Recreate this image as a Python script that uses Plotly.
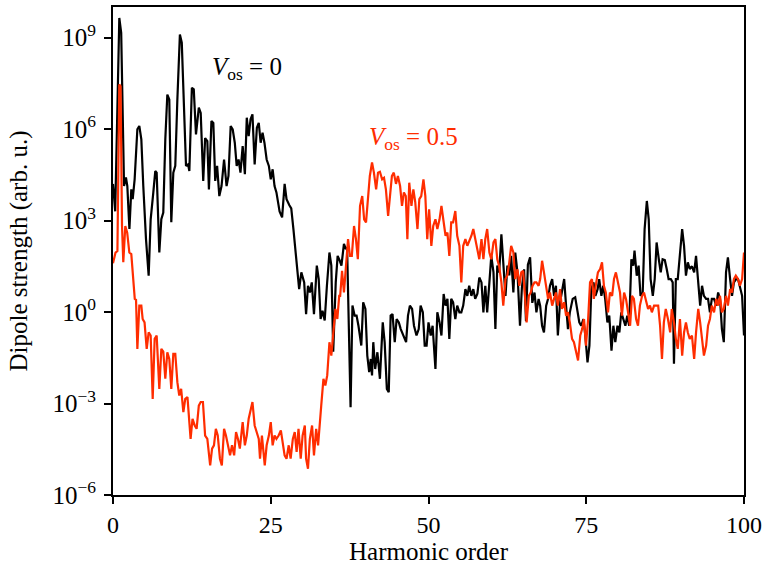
import plotly.graph_objects as go

# Harmonic spectra: harmonic order vs log10 of dipole strength (arb. u.)
harmonic_vos0 = [
    0.0, 0.35, 1.0, 1.3, 1.75, 2.05, 2.27, 2.6, 2.9, 3.12, 3.43, 3.86, 4.17, 4.49, 4.8, 5.23, 5.65, 5.97,
    6.39, 6.7, 6.92, 7.34, 7.66, 7.97, 8.29, 8.61, 8.92, 9.24, 9.56, 9.87, 10.2, 10.6, 10.9, 11.25, 11.57,
    11.9, 12.1, 12.5, 12.8, 13.15, 13.6, 13.9, 14.3, 14.6, 14.95, 15.2, 15.6, 15.9, 16.2, 16.5, 16.85, 17.2,
    17.6, 18.0, 18.3, 18.65, 18.97, 19.3, 19.6, 19.9, 20.2, 20.55, 20.9, 21.2, 21.5, 21.8, 22.1, 22.45,
    22.8, 23.1, 23.4, 23.7, 24.0, 24.35, 24.7, 25.0, 25.3, 25.6, 25.9, 26.4, 26.8, 27.2, 27.5, 27.95,
    28.25, 28.6, 29.05, 29.5, 29.85, 30.3, 30.6, 30.9, 31.2, 31.5, 31.85, 32.3, 32.6, 32.9, 33.2, 33.55,
    33.9, 34.3, 34.6, 34.9, 35.3, 35.6, 35.9, 36.2, 36.6, 36.9, 37.1, 37.35, 37.65, 37.95, 38.3, 38.6,
    38.9, 39.35, 39.65, 40.0, 40.3, 40.6, 40.85, 41.05, 41.25, 41.55, 41.9, 42.3, 42.75, 43.05, 43.4,
    43.7, 44.0, 44.3, 44.65, 44.95, 45.3, 45.6, 46.0, 46.45, 46.75, 47.05, 47.4, 47.7, 48.1, 48.45, 48.75,
    49.1, 49.4, 49.7, 50.0, 50.35, 50.65, 51.1, 51.4, 51.75, 52.05, 52.4, 52.7, 53.0, 53.3, 53.6, 53.9,
    54.25, 54.55, 54.9, 55.2, 55.5, 55.85, 56.15, 56.45, 56.8, 57.1, 57.4, 57.75, 58.05, 58.4, 58.7, 59.0,
    59.3, 59.65, 59.95, 60.3, 60.6, 60.9, 61.2, 61.55, 61.85, 62.2, 62.5, 62.8, 63.1, 63.45, 63.75, 64.1,
    64.5, 64.8, 65.15, 65.45, 65.75, 66.1, 66.45, 66.8, 67.1, 67.45, 67.7, 68.0, 68.3, 68.65, 68.95,
    69.25, 69.6, 69.9, 70.2, 70.5, 70.85, 71.15, 71.5, 71.8, 72.1, 72.4, 72.85, 73.25, 73.6, 73.9, 74.2,
    74.55, 74.85, 75.2, 75.5, 75.8, 76.15, 76.45, 76.8, 77.05, 77.4, 77.7, 78.0, 78.35, 78.65, 79.0, 79.3,
    79.6, 79.95, 80.25, 80.55, 80.85, 81.2, 81.5, 81.8, 82.15, 82.45, 82.65, 83.0, 83.3, 83.6, 83.95,
    84.25, 84.6, 84.9, 85.2, 85.55, 85.85, 86.15, 86.5, 86.8, 87.1, 87.45, 87.75, 88.05, 88.4, 88.7, 88.9,
    89.2, 89.5, 89.85, 90.2, 90.5, 90.8, 91.1, 91.4, 91.75, 92.1, 92.4, 92.75, 93.05, 93.35, 93.65, 94.0,
    94.3, 94.6, 94.9, 95.25, 95.6, 95.9, 96.2, 96.5, 96.8, 97.15, 97.45, 97.8, 98.1, 98.4, 98.75, 99.05,
    99.35, 99.7, 100.0,
]
log_strength_vos0 = [
    4.2, 3.3, 9.64, 9.15, 4.13, 4.41, 4.13, 2.72, 4.02, 3.7, 4.35, 5.99, 6.1, 5.66, 4.13, 2.39, 1.19, 3.04,
    3.92, 4.62, 4.57, 1.95, 3.04, 3.26, 5.66, 7.13, 6.97, 2.94, 4.57, 4.79, 6.97, 9.1, 8.83, 6.75, 4.79,
    4.84, 4.62, 7.35, 7.3, 5.82, 6.7, 6.53, 4.3, 5.7, 5.6, 4.02, 6.26, 6.2, 4.3, 4.79, 3.8, 4.13,
    5.0, 4.13, 4.46, 6.1, 5.99, 5.55, 4.79, 5.0, 4.57, 5.44, 4.52, 6.37, 5.77, 6.32, 6.48, 4.84,
    6.04, 6.2, 5.55, 5.88, 5.55, 5.0, 4.79, 4.35, 4.68, 4.13, 3.92, 3.3, 3.1, 4.2, 3.7, 3.5,
    3.4, 2.7, 1.73, 0.75, 1.3, 0.97, -0.07, 0.86, 0.64, 0.97, -0.07, 1.52, 1.08, -0.23, 0.04, -0.28,
    0.86, 1.95, 1.52, -1.3, 0.97, 1.84, 1.7, 1.52, 2.23, 2.06, 2.12, -0.88, -3.12, 0.21, -0.12, -0.12,
    -0.45, -1.1, 0.32, 0.1, -1.43, -1.97, -1.54, -2.08, -0.99, -1.87, -1.32, -2.19, -0.34, -0.99, -2.52,
    -2.63, -0.12, -0.07, -0.99, -0.23, -0.34, -0.56, -0.77, -0.99, -0.12, 0.21, 0.1, -0.45, -0.77, -0.56, 0.21,
    -0.01, -1.1, -1.1, -0.34, -0.77, -0.45, -1.87, -0.01, -0.34, -0.77, 0.59, 0.21, 0.43, -0.88, 0.43, 0.32,
    -0.23, 0.21, -0.01, -0.01, 0.21, 0.75, 0.53, 0.86, 0.53, 0.75, 0.43, 0.6, 1.13, 0.97, -0.01, 0.86,
    -0.01, 0.97, 1.84, 1.3, -0.56, 1.52, 1.3, 2.55, 1.73, 0.53, 1.52, 1.2, 1.84, 0.64, 1.95, 1.3,
    -0.45, 0.8, 1.4, -0.3, 1.55, 1.79, 0.3, 0.64, -0.01, 0.43, 0.2, -0.45, -0.67, 0.21, 0.43,
    0.86, 1.08, 0.53, 0.86, -0.77, 0.32, 0.75, 1.08, 0.21, -0.56, -0.01, 0.43, 0.48, -0.01, -0.34, -0.45,
    -0.23, -0.77, -1.65, -1.1, 0.75, 0.97, 0.53, 0.75, 1.08, 0.53, 0.86, 0.43, -0.34, -0.12, -1.27, -0.45,
    -0.99, -0.45, -0.67, -0.01, -0.23, -0.45, -0.12, -0.45, 1.73, 1.52, 2.01, 1.19, 1.52, 0.53, 0.64,
    2.72, 3.64, 3.04, 1.08, 0.53, 1.08, 2.28, 1.73, 1.3, 1.73, 1.7, 1.41, 1.08, 1.08, 0.97, -1.7,
    1.08, 1.08, 1.84, 2.72, 2.17, 1.19, 1.63, 1.41, 1.5, 1.3, 1.84, 0.97, 0.21, 0.86, 0.53, 0.43,
    0.43, -0.01, 0.43, 0.43, 0.21, 0.64, 0.43, -0.56, -0.99, 1.3, 1.79, 1.08, 0.53, 0.97, 1.08, 1.08,
    0.86, 0.53, -0.77,
]

harmonic_vos05 = [
    0.0, 0.4, 0.7, 1.0, 1.2, 1.43, 1.63, 1.95, 2.25, 2.59, 2.9, 3.15, 3.45, 3.65, 3.86, 4.17, 4.49, 4.7,
    5.0, 5.34, 5.65, 5.97, 6.29, 6.6, 6.92, 7.34, 7.66, 7.97, 8.29, 8.61, 8.92, 9.24, 9.56, 9.87, 10.2,
    10.5, 10.8, 11.15, 11.45, 11.8, 12.0, 12.3, 12.6, 12.95, 13.25, 13.6, 13.9, 14.25, 14.6, 14.95, 15.4,
    15.7, 16.0, 16.3, 16.6, 16.95, 17.25, 17.6, 17.9, 18.2, 18.55, 18.86, 19.2, 19.5, 19.8, 20.1, 20.55,
    20.9, 21.2, 21.5, 21.8, 22.1, 22.45, 22.8, 23.1, 23.3, 23.6, 24.05, 24.35, 24.7, 25.0, 25.3, 25.6,
    25.9, 26.25, 26.6, 26.9, 27.2, 27.5, 27.85, 28.15, 28.5, 28.8, 29.1, 29.4, 29.75, 30.05, 30.4, 30.6,
    30.9, 31.2, 31.55, 31.85, 32.2, 32.5, 32.7, 33.0, 33.35, 33.65, 33.95, 34.3, 34.6, 34.9, 35.25, 35.55,
    35.85, 36.0, 36.3, 36.6, 36.9, 37.25, 37.55, 37.85, 38.2, 38.5, 38.8, 39.15, 39.5, 39.8, 40.1, 40.4,
    40.7, 41.05, 41.35, 41.7, 42.0, 42.3, 42.65, 42.95, 43.25, 43.6, 43.9, 44.2, 44.5, 44.85, 45.15, 45.5,
    45.8, 46.1, 46.4, 46.65, 46.95, 47.3, 47.6, 47.9, 48.25, 48.55, 48.85, 49.2, 49.5, 49.8, 50.1, 50.45,
    50.75, 51.1, 51.4, 51.75, 52.05, 52.35, 52.7, 53.0, 53.3, 53.6, 53.9, 54.25, 54.55, 54.9, 55.2, 55.5,
    55.85, 56.15, 56.45, 56.8, 57.1, 57.4, 57.75, 58.05, 58.4, 58.7, 59.0, 59.3, 59.65, 59.95, 60.3, 60.6,
    60.9, 61.2, 61.55, 61.85, 62.2, 62.5, 62.8, 63.1, 63.45, 63.75, 64.1, 64.4, 64.7, 65.0, 65.25, 65.55,
    65.9, 66.2, 66.5, 66.8, 67.1, 67.45, 67.7, 68.0, 68.3, 68.65, 68.95, 69.25, 69.6, 69.9, 70.2, 70.5,
    70.85, 71.15, 71.5, 71.8, 72.1, 72.4, 72.75, 73.05, 73.4, 73.7, 74.05, 74.35, 74.65, 74.95, 75.3, 75.6,
    75.9, 76.2, 76.5, 76.85, 77.2, 77.5, 77.8, 78.1, 78.45, 78.75, 79.1, 79.4, 79.7, 80.0, 80.35, 80.65,
    81.0, 81.3, 81.6, 81.95, 82.25, 82.55, 82.9, 83.2, 83.5, 83.85, 84.15, 84.45, 84.8, 85.1, 85.4, 85.75,
    86.05, 86.4, 86.7, 87.0, 87.3, 87.6, 87.95, 88.3, 88.55, 88.9, 89.2, 89.5, 89.85, 90.2, 90.5, 90.8,
    91.1, 91.4, 91.75, 92.1, 92.4, 92.75, 93.05, 93.35, 93.65, 94.0, 94.3, 94.6, 94.9, 95.25, 95.6, 95.9,
    96.2, 96.5, 96.8, 97.15, 97.45, 97.8, 98.1, 98.4, 98.7, 99.05, 99.35, 99.7, 100.0,
]
log_strength_vos05 = [
    1.6, 1.95, 2.0, 7.46, 7.4, 2.82, 1.63, 2.82, 2.6, 1.95, 1.9, 1.19, 0.43, 0.4, -1.21, 0.21, 0.21, -0.23,
    -0.34, -1.21, -0.67, -0.77, -2.85, -0.88, -0.77, -2.52, -1.21, -1.3, -2.19, -1.32, -1.54, -2.52, -1.37, -1.37, -2.3,
    -2.74, -2.52, -3.28, -2.85, -2.79, -3.5, -4.16, -3.5, -3.72, -3.83, -3.07, -2.95, -2.95, -4.05, -4.16, -5.03,
    -4.48, -4.37, -3.83, -4.05, -4.81, -5.03, -3.83, -4.05, -4.37, -4.7, -4.37, -4.7, -3.94, -4.16, -4.48, -3.61,
    -4.37, -4.05, -3.5, -3.17, -2.95, -3.72, -3.94, -4.16, -4.81, -4.05, -5.03, -4.37, -4.05, -3.61, -4.37, -4.05,
    -4.16, -4.05, -3.88, -4.26, -4.7, -4.81, -4.37, -4.81, -4.16, -3.94, -4.59, -3.83, -4.81, -4.05, -3.72, -4.81,
    -5.14, -4.16, -3.72, -4.7, -3.83, -4.37, -3.72, -3.07, -2.19, -2.41, -2.08, -0.99, -1.43, -0.67, 0.1, -0.23,
    0.53, 0.53, 1.35, 0.64, 1.52, 2.39, 1.84, 1.84, 2.82, 2.4, 1.73, 3.48, 3.8, 3.04, 2.94, 3.7,
    4.46, 4.9, 4.57, 4.02, 4.57, 4.6, 4.35, 4.4, 4.02, 3.15, 3.92, 4.46, 4.57, 4.2, 4.46, 4.13,
    3.48, 3.92, 3.8, 2.39, 4.24, 3.48, 4.02, 3.6, 2.72, 3.7, 3.8, 4.35, 3.8, 2.39, 3.37, 2.17,
    2.82, 3.04, 2.72, 3.04, 3.48, 3.04, 2.5, 2.6, 1.84, 2.94, 2.94, 3.31, 2.5, 2.17, 0.97, 2.17,
    2.39, 2.17, 2.3, 2.5, 2.72, 2.4, 2.06, 1.73, 2.39, 1.73, 2.39, 2.72, 1.95, 1.73, 2.28, 2.39,
    1.73, 1.5, 0.97, 0.21, 1.08, 1.2, 1.63, 2.17, 1.95, 1.08, 1.4, 0.86, 1.3, 1.35, 0.64, -0.34,
    0.53, 0.64, 0.86, 0.97, 0.97, 0.86, 1.08, 1.68, 1.3, 0.86, 0.43, 0.64, 0.21, 0.43, 0.64, 0.21,
    0.75, 0.1, 0.32, -0.12, -0.01, -0.34, -0.88, -0.99, -1.32, -1.59, -0.77, -0.56, -0.23, -1.1, -0.23, 0.97,
    1.08, 0.43, 0.86, 1.3, 1.41, 1.63, 0.86, 0.64, -0.01, 0.64, 0.53, 1.08, 1.3, 0.97, 0.64, -0.12,
    0.64, 0.43, -0.01, -0.45, 0.53, 0.43, -0.23, -0.45, 0.21, 0.53, 0.64, 0.43, 0.1, 0.21, -0.01, 0.21,
    0.21, 0.21, -0.45, -1.54, -0.34, 0.1, -0.23, -0.67, 0.1, -0.34, -0.88, -1.21, -0.23, -1.43, -0.67, -0.34,
    -0.67, -0.88, -0.77, -1.54, -0.67, 0.1, -0.34, -0.88, -1.43, -1.1, -0.45, -0.23, 0.21, -0.01, 0.43, 0.21,
    0.53, -0.01, 0.1, 0.53, 0.21, 0.75, 0.64, 1.08, 1.19, 1.08, 0.86, 1.08, 1.95,
]

y_tick_exponents = [-6, -3, 0, 3, 6, 9]
x_tick_values = [0, 25, 50, 75, 100]

BLACK = "#000000"
RED = "#ff2d00"
FONT = "Liberation Serif"

fig = go.Figure()
fig.add_trace(go.Scatter(
    x=harmonic_vos0, y=[10 ** v for v in log_strength_vos0],
    mode="lines", line=dict(color=BLACK, width=2.2), name="V_os = 0",
))
fig.add_trace(go.Scatter(
    x=harmonic_vos05, y=[10 ** v for v in log_strength_vos05],
    mode="lines", line=dict(color=RED, width=2.2), name="V_os = 0.5",
))

# curve labels (annotation y on a log axis is given as log10)
fig.add_annotation(x=21.2, y=8.0, xref="x", yref="y", showarrow=False,
                   text="<i>V</i><sub>os</sub> = 0",
                   font=dict(family=FONT, size=25, color=BLACK))
fig.add_annotation(x=47.7, y=5.7, xref="x", yref="y", showarrow=False,
                   text="<i>V</i><sub>os</sub> = 0.5",
                   font=dict(family=FONT, size=25, color=RED))

fig.update_layout(
    width=763, height=569,
    margin=dict(l=113, r=19, t=7, b=74),
    paper_bgcolor="white", plot_bgcolor="white",
    showlegend=False,
    font=dict(family=FONT, size=24, color=BLACK),
)
fig.update_xaxes(
    range=[0, 100], tickvals=x_tick_values, ticktext=[str(v) for v in x_tick_values],
    ticks="outside", ticklen=7, tickwidth=1.5, tickcolor=BLACK,
    showline=True, linewidth=2, linecolor=BLACK, mirror=True,
    showgrid=False, zeroline=False, automargin=False,
    tickfont=dict(family=FONT, size=24),
    title=dict(text="Harmonic order", standoff=4, font=dict(family=FONT, size=25)),
)
fig.update_yaxes(
    type="log", range=[-6, 10],
    tickvals=[10.0 ** e for e in y_tick_exponents],
    ticktext=[f"10<sup>{e}</sup>".replace("-", "\u2212") for e in y_tick_exponents],
    ticks="outside", ticklen=7, tickwidth=1.5, tickcolor=BLACK, ticklabelstandoff=3,
    showline=True, linewidth=2, linecolor=BLACK, mirror=True,
    showgrid=False, zeroline=False, minor=dict(ticks=""), automargin=False,
    tickfont=dict(family=FONT, size=25),
    title=dict(text="Dipole strength (arb. u.)", standoff=18, font=dict(family=FONT, size=25)),
)

fig.write_html("out.html")
